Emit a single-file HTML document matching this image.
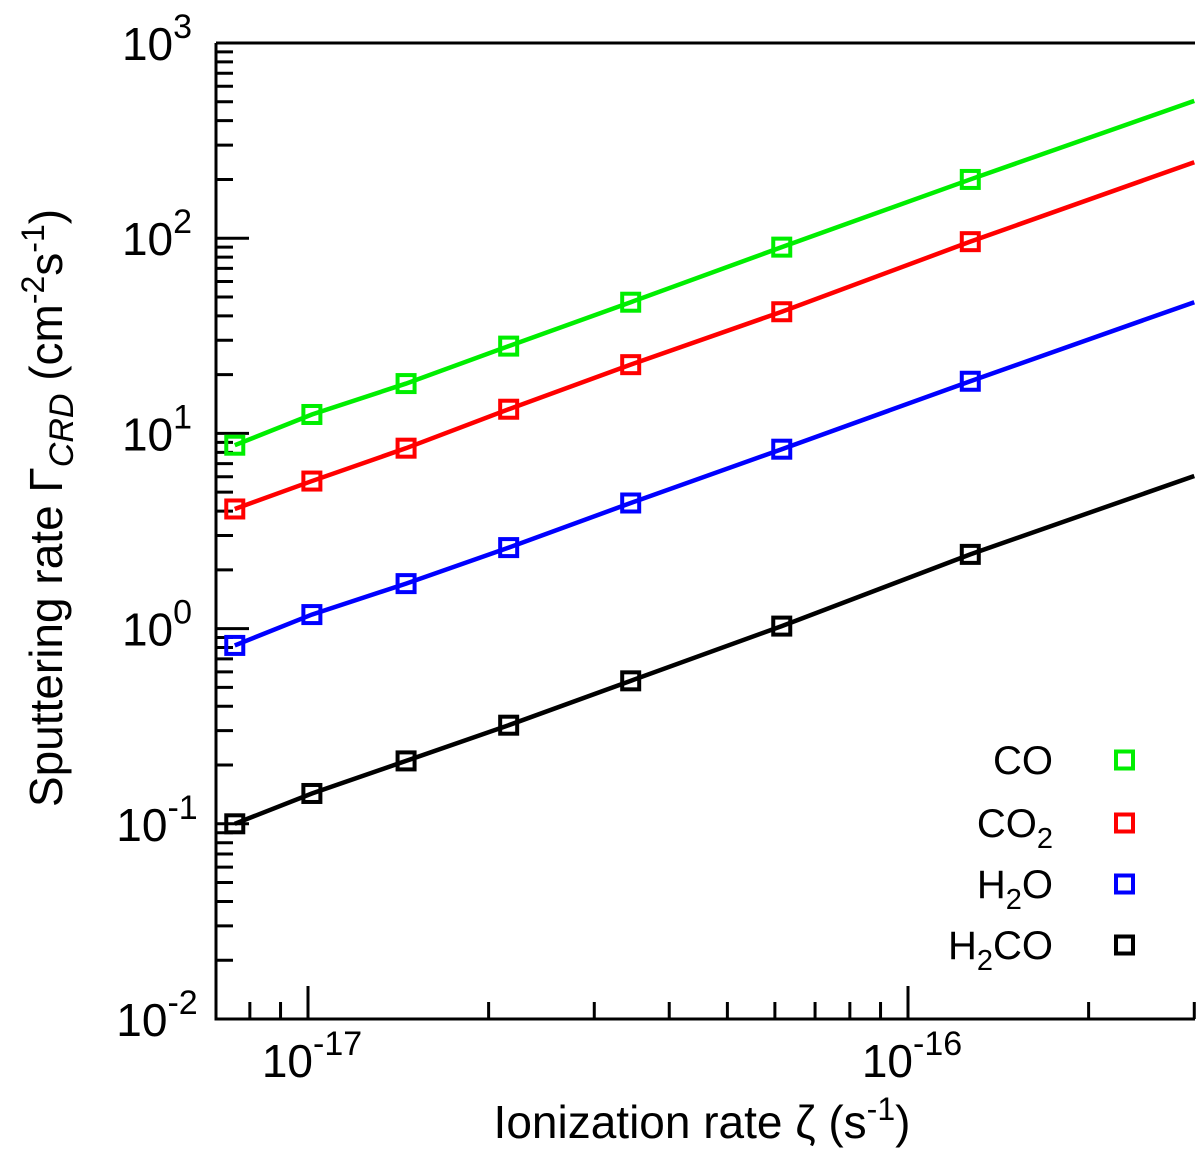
<!DOCTYPE html>
<html><head><meta charset="utf-8"><style>
body{margin:0;background:#fff}
svg{display:block;font-family:"Liberation Sans",Arial,sans-serif}
</style></head><body>
<svg id="c" width="1200" height="1158"></svg>
<script>
const xVals=[7.55e-18,1.015e-17,1.457e-17,2.16e-17,3.45e-17,6.16e-17,1.27e-16];
const xEnd=3.0e-16;
const seriesNames=["CO","CO2","H2O","H2CO"];
const seriesColors=["#00ee00","#ff0000","#0000ff","#000000"];
const coVals=[8.7,12.5,18,28,47,90,200];
const co2Vals=[4.1,5.7,8.4,13.3,22.5,42,96];
const h2oVals=[0.82,1.18,1.7,2.6,4.4,8.3,18.5];
const h2coVals=[0.1,0.143,0.21,0.32,0.54,1.03,2.4];
const endVals=[505,245,47,6.05];
const yTickExps=[-2,-1,0,1,2,3];
const xTickExps=[-17,-16];

const L=216,R=1195,T=43,B=1019;
const xDec=600, yDec=(B-T)/5;
const X=v=>308+xDec*(Math.log10(v)+17);
const Y=v=>B-yDec*(Math.log10(v)+2);
const NS="http://www.w3.org/2000/svg";
const svg=document.getElementById('c');
function el(t,a,p){const e=document.createElementNS(NS,t);for(const k in a)e.setAttribute(k,a[k]);(p||svg).appendChild(e);return e;}

const fr=el('path',{d:`M${L},${T}H${R}M${L},${T}V${B}H${R}`,stroke:'#000','stroke-width':3,fill:'none'});



yTickExps.forEach(e=>{
  const y=Y(Math.pow(10,e));
  if(e<3){const t=el('line',{x1:L,x2:L+33,y1:y,y2:y,stroke:'#000','stroke-width':3});
  
  }
  if(e<3)for(let m=2;m<=9;m++){const yy=Y(m*Math.pow(10,e));
    const mt=el('line',{x1:L,x2:L+17,y1:yy,y2:yy,stroke:'#000','stroke-width':3});
    
    }
  const tx=el('text',{x:157,y:y+17,'font-size':46,'text-anchor':'middle'});
  
  
  tx.innerHTML=`10<tspan dy="-22" font-size="34">${e}</tspan>`;
});
const xMinor=[8e-18,9e-18,2e-17,3e-17,4e-17,5e-17,6e-17,7e-17,8e-17,9e-17,2e-16,3e-16];
xMinor.forEach(v=>{const x=X(v);if(x>R+1)return;
  const t=el('line',{x1:x,x2:x,y1:B,y2:B-17,stroke:'#000','stroke-width':3});
  
  });
xTickExps.forEach(e=>{const x=X(Math.pow(10,e));
  const t=el('line',{x1:x,x2:x,y1:B,y2:B-33,stroke:'#000','stroke-width':3});
  
  
  const tx=el('text',{x:x+4,y:B+58,'font-size':46,'text-anchor':'middle'});
  
  
  tx.innerHTML=`10<tspan dy="-22" font-size="34">${e}</tspan>`;});

const all=[coVals,co2Vals,h2oVals,h2coVals];
all.forEach((vals,i)=>{
  const pts=xVals.map((v,j)=>[X(v),Y(vals[j])]);
  pts.push([X(xEnd),Y(endVals[i])]);
  const ln=el('polyline',{points:pts.map(p=>p.join(',')).join(' '),stroke:seriesColors[i],'stroke-width':4.5,fill:'none'});
  
  
  xVals.forEach((v,j)=>{
    const m=el('rect',{x:X(v)-8.5,y:Y(vals[j])-8.5,width:17,height:17,stroke:seriesColors[i],'stroke-width':4,fill:'none'});
    
    
  });
});

const legY=[760,823,884,945];
const legLabels=['CO','CO<tspan font-size="29" dy="11">2</tspan>','H<tspan font-size="29" dy="11">2</tspan><tspan dy="-11">O</tspan>','H<tspan font-size="29" dy="11">2</tspan><tspan dy="-11">CO</tspan>'];
legLabels.forEach((lab,i)=>{
  const t=el('text',{x:1053,y:legY[i]+14,'font-size':40,'text-anchor':'end'});
  
  
  t.innerHTML=lab;
  const m=el('rect',{x:1116,y:legY[i]-8.5,width:17,height:17,stroke:seriesColors[i],'stroke-width':4,fill:'none'});
  
  
});

const xt=el('text',{x:702,y:1138,'font-size':46,'text-anchor':'middle'});


xt.innerHTML='Ionization rate ζ (s<tspan dy="-18" font-size="32">-1</tspan><tspan dy="18">)</tspan>';
const yt=el('text',{x:0,y:0,'font-size':46,'text-anchor':'middle',transform:'translate(62,508) rotate(-90)'});


yt.innerHTML='Sputtering rate Γ<tspan dy="11" font-size="34" font-style="italic">CRD</tspan><tspan dy="-11"> (cm</tspan><tspan dy="-18" font-size="32">-2</tspan><tspan dy="18">s</tspan><tspan dy="-18" font-size="32">-1</tspan><tspan dy="18">)</tspan>';
</script>
</body></html>
